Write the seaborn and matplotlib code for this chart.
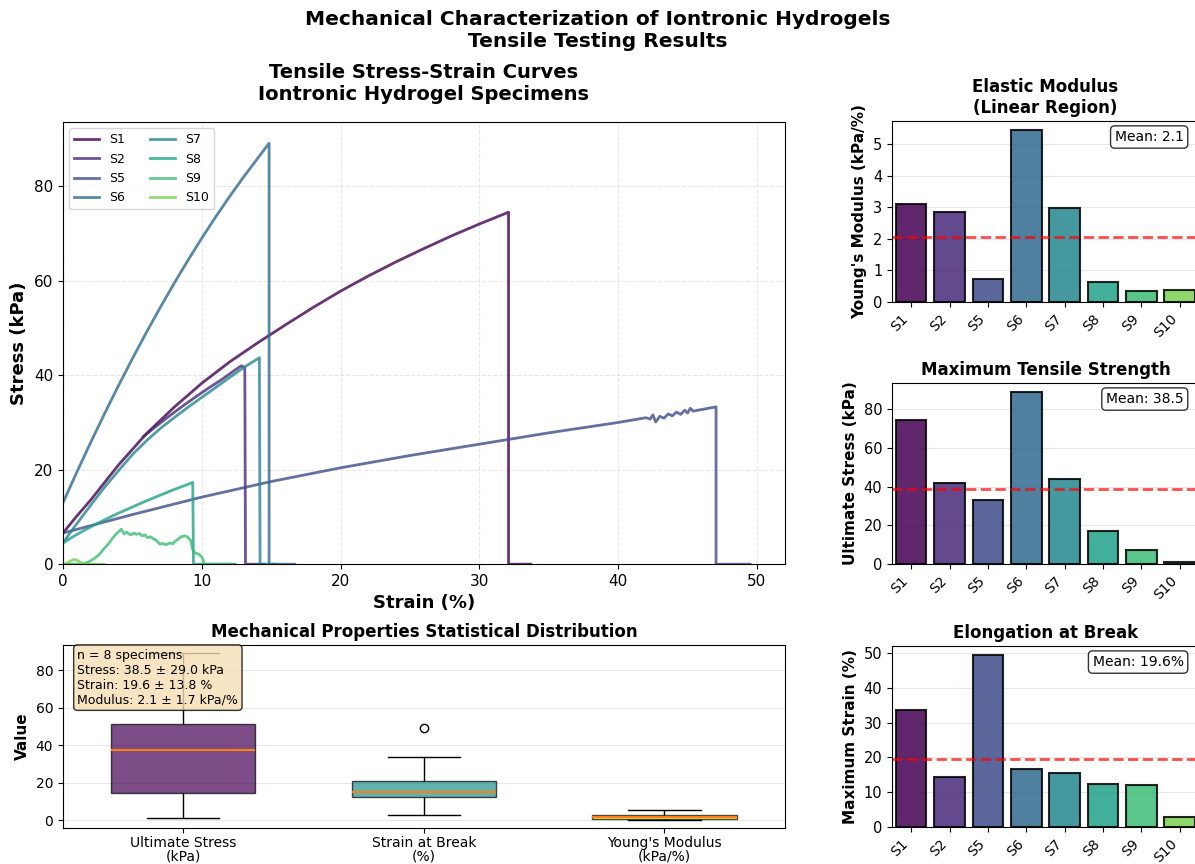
import numpy as np
import pandas as pd
import matplotlib
matplotlib.use("Agg")
import matplotlib.pyplot as plt
from matplotlib.ticker import MultipleLocator
import seaborn as sns

# specimen ids
specimens = ["S1", "S2", "S5", "S6", "S7", "S8", "S9", "S10"]

# stress-strain curves (strain in %, stress in kPa)
s1_strain = [0, 1, 2, 3, 4, 6, 8, 10, 12, 14, 16, 18, 20, 22, 24, 26, 28, 30, 32.1, 32.1, 33.7]
s1_stress = [6.6, 10.2, 13.6, 17.3, 21.0, 27.6, 33.2, 38.3, 42.8, 46.8, 50.6, 54.3, 57.8, 61.0,
             64.0, 66.8, 69.5, 72.0, 74.5, 0, 0]

s2_strain = [5.8, 6.5, 7.5, 8.5, 9.5, 10.5, 11.5, 12.3, 12.85, 13.1, 13.15, 14.5]
s2_stress = [27.0, 28.7, 31.0, 33.2, 35.3, 37.3, 39.2, 40.9, 42.0, 41.5, 0, 0]

s5_strain = [0, 5, 10, 15, 20, 25, 30, 35, 40, 42.0, 42.3, 42.5, 42.7, 43.0, 43.3, 43.6, 43.9,
             44.2, 44.5, 44.8, 45.0, 45.2, 45.4, 47.05, 47.05, 49.5]
s5_stress = [6.6, 10.5, 14.2, 17.5, 20.4, 23.0, 25.4, 27.8, 30.0, 31.0, 30.7, 31.6, 30.1, 31.3,
             30.9, 31.8, 31.4, 32.2, 31.7, 32.6, 32.0, 33.0, 32.4, 33.3, 0, 0]

s6_strain = [0, 1, 2, 3, 4, 5, 6, 7, 8, 9, 10, 11, 12, 13, 14, 14.85, 14.85, 16.7]
s6_stress = [13.0, 19.5, 25.8, 31.9, 37.8, 43.5, 49.0, 54.3, 59.4, 64.3, 69.0, 73.5, 77.8,
             81.9, 85.8, 89.1, 0, 0]

s7_strain = [0, 1, 2, 3, 4, 5, 6, 7, 8, 9, 10, 11, 12, 13, 14.15, 14.2, 15.4]
s7_stress = [4.5, 8.6, 12.5, 16.3, 19.8, 23.2, 26.1, 28.7, 31.0, 33.2, 35.3, 37.4, 39.5, 41.6,
             43.7, 0, 0]

s8_strain = [0, 1, 2, 3, 4, 5, 6, 7, 8, 9, 9.35, 9.4, 12.4]
s8_stress = [4.5, 6.3, 7.9, 9.4, 10.8, 12.1, 13.4, 14.6, 15.8, 16.9, 17.3, 0, 0]

s9_strain = [0, 1.4, 1.8, 2.2, 2.6, 2.9, 3.3, 3.6, 3.9, 4.2, 4.4, 4.6, 4.7, 4.9, 5.1, 5.3, 5.5,
             5.7, 5.9, 6.1, 6.3, 6.5, 6.7, 7.0, 7.2, 7.4, 7.7, 7.9, 8.1, 8.3, 8.5, 8.8, 9.0, 9.2,
             9.35, 9.5, 9.7, 9.85, 10.0, 10.1, 10.15, 12.0]
s9_stress = [0, 0.05, 0.4, 1.1, 2.0, 3.1, 4.4, 5.6, 6.6, 7.4, 6.4, 6.8, 6.5, 6.2, 6.6, 6.3, 6.5,
             6.0, 6.2, 5.6, 5.8, 5.4, 5.1, 4.2, 4.4, 4.1, 4.5, 4.3, 4.9, 5.3, 5.8, 6.0, 5.7, 5.0,
             3.1, 2.4, 2.2, 2.0, 1.5, 0.8, 0, 0]

s10_strain = [0, 0.3, 0.55, 0.8, 1.05, 1.3, 1.6, 2.95]
s10_stress = [0, 0.2, 0.7, 1.0, 0.8, 0.3, 0, 0]

# summary values per specimen (bar charts)
youngs_modulus = [3.10, 2.87, 0.74, 5.47, 2.97, 0.62, 0.36, 0.39]
ultimate_stress = [74.5, 42.0, 33.3, 89.1, 43.7, 17.3, 7.4, 1.0]
max_strain = [33.7, 14.5, 49.5, 16.7, 15.4, 12.4, 12.0, 2.95]

box_labels = ["Ultimate Stress\n(kPa)", "Strain at Break\n(%)", "Young's Modulus\n(kPa/%)"]
box_colors = ["#440154", "#21918c", "#fde725"]

colors = plt.cm.viridis(np.linspace(0, 0.8, len(specimens)))

curves = {
    "S1": (s1_strain, s1_stress), "S2": (s2_strain, s2_stress),
    "S5": (s5_strain, s5_stress), "S6": (s6_strain, s6_stress),
    "S7": (s7_strain, s7_stress), "S8": (s8_strain, s8_stress),
    "S9": (s9_strain, s9_stress), "S10": (s10_strain, s10_stress),
}


def bar_panel(ax, values, title, ylabel, fmt, step):
    sns.barplot(x=specimens, y=values, hue=specimens, palette=list(colors), saturation=1,
                alpha=0.85, edgecolor="black", linewidth=1.5, legend=False, ax=ax)
    mean = np.mean(values)
    ax.axhline(mean, color="red", ls="--", lw=2, alpha=0.7)
    ax.text(0.95, 0.95, fmt.format(mean), transform=ax.transAxes, ha="right", va="top",
            fontsize=10, bbox=dict(boxstyle="round", facecolor="white", alpha=0.8))
    ax.set_title(title, fontsize=12, fontweight="bold")
    ax.set_ylabel(ylabel, fontsize=11, fontweight="bold")
    ax.set_xlabel("")
    ax.yaxis.set_major_locator(MultipleLocator(step))
    ax.tick_params(axis="y", labelsize=10.5)
    ax.tick_params(axis="x", rotation=45, labelsize=10)
    for lab in ax.get_xticklabels():
        lab.set_ha("right")
    ax.grid(axis="y", alpha=0.3)
    ax.set_axisbelow(True)


def main():
    fig = plt.figure(figsize=(11.95, 8.64), dpi=100)

    # stress-strain curves
    ax = fig.add_axes([0.0527, 0.347, 0.604, 0.5116])
    for spec, col in zip(specimens, colors):
        x, y = curves[spec]
        sns.lineplot(x=x, y=y, sort=False, estimator=None, color=col, lw=2, alpha=0.8,
                     label=spec, ax=ax)
    ax.set_xlim(0, 52)
    ax.set_ylim(0, max(ultimate_stress) * 1.05)
    ax.set_xlabel("Strain (%)", fontsize=13, fontweight="bold")
    ax.set_ylabel("Stress (kPa)", fontsize=13, fontweight="bold")
    ax.set_title("Tensile Stress-Strain Curves\nIontronic Hydrogel Specimens",
                 fontsize=14, fontweight="bold", pad=16)
    ax.tick_params(labelsize=11)
    ax.grid(True, ls="--", alpha=0.3)
    ax.legend(loc="upper left", ncol=2, fontsize=9)

    # distribution boxplot
    axb = fig.add_axes([0.0527, 0.0417, 0.604, 0.2118])
    box_df = pd.DataFrame({
        "prop": np.repeat(box_labels, len(specimens)),
        "value": np.concatenate([ultimate_stress, max_strain, youngs_modulus]),
    })
    sns.boxplot(data=box_df, x="prop", y="value", hue="prop", palette=box_colors, width=0.6,
                saturation=1, linecolor="black", linewidth=1, legend=False,
                boxprops=dict(alpha=0.7),
                medianprops=dict(color="#ff7f0e", lw=1.5),
                flierprops=dict(marker="o", markerfacecolor="none", markeredgecolor="black",
                                markersize=6),
                ax=axb)
    axb.set_xlabel("")
    axb.set_ylabel("Value", fontsize=11, fontweight="bold")
    axb.set_title("Mechanical Properties Statistical Distribution", fontsize=12,
                  fontweight="bold")
    axb.grid(axis="y", alpha=0.3)
    axb.tick_params(axis="x", labelsize=10, pad=2)
    for lab in axb.get_xticklabels():
        lab.set_linespacing(0.95)
    stats_txt = (f"n = {len(specimens)} specimens\n"
                 f"Stress: {np.mean(ultimate_stress):.1f} ± {np.std(ultimate_stress):.1f} kPa\n"
                 f"Strain: {np.mean(max_strain):.1f} ± {np.std(max_strain):.1f} %\n"
                 f"Modulus: {np.mean(youngs_modulus):.1f} ± {np.std(youngs_modulus):.1f} kPa/%")
    axb.text(0.02, 0.98, stats_txt, transform=axb.transAxes, va="top", fontsize=9,
             bbox=dict(boxstyle="round", facecolor="wheat", alpha=0.8))

    # bar panels on the right
    ax1 = fig.add_axes([0.7464, 0.6505, 0.2569, 0.2095])
    bar_panel(ax1, youngs_modulus, "Elastic Modulus\n(Linear Region)",
              "Young's Modulus (kPa/%)", "Mean: {:.1f}", 1)
    ax2 = fig.add_axes([0.7464, 0.3472, 0.2569, 0.2095])
    bar_panel(ax2, ultimate_stress, "Maximum Tensile Strength",
              "Ultimate Stress (kPa)", "Mean: {:.1f}", 20)
    ax3 = fig.add_axes([0.7464, 0.0428, 0.2569, 0.2095])
    bar_panel(ax3, max_strain, "Elongation at Break",
              "Maximum Strain (%)", "Mean: {:.1f}%", 10)

    fig.suptitle("Mechanical Characterization of Iontronic Hydrogels\nTensile Testing Results",
                 fontsize=14.5, fontweight="bold", y=0.988)
    fig.savefig("out.png", dpi=100)


if __name__ == "__main__":
    main()
